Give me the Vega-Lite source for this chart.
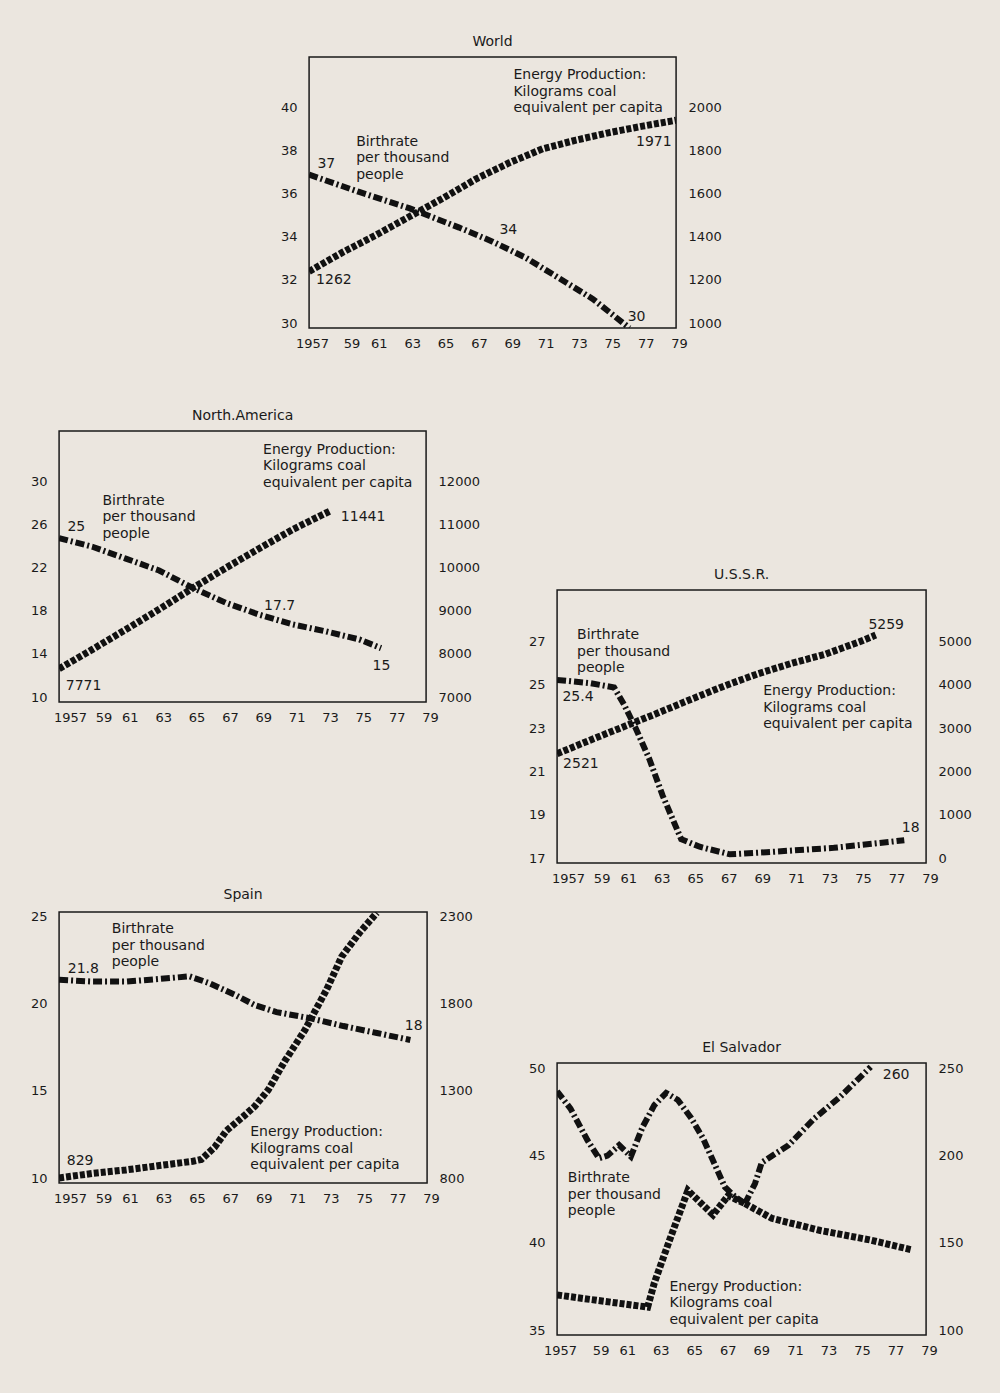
{
  "$schema": "https://vega.github.io/schema/vega-lite/v6.json",
  "background": "#ebe6df",
  "padding": {"left": 29, "top": 34, "right": 40, "bottom": 40},
  "config": {
    "font": "DejaVu Sans",
    "view": {"stroke": "#1a1a1a", "strokeWidth": 1.5},
    "title": {"font": "DejaVu Sans", "fontSize": 14, "fontWeight": "normal", "color": "#1a1a1a", "offset": 8, "frame": "group"},
    "axis": {"labelFont": "DejaVu Sans", "labelFontSize": 13, "labelColor": "#1a1a1a", "ticks": false, "domain": false, "grid": false, "labelPadding": 12},
    "axisY": {"labelOffset": -5},
    "axisX": {"labelPadding": 9, "labelFlush": false, "labelOverlap": false}
  },
  "datasets": {
    "lines": [
      {"region":"World","series":"Birthrate","year":1957,"value":37.1},
      {"region":"World","series":"Birthrate","year":1960,"value":36.3},
      {"region":"World","series":"Birthrate","year":1963,"value":35.55},
      {"region":"World","series":"Birthrate","year":1966,"value":34.65},
      {"region":"World","series":"Birthrate","year":1968,"value":34.0},
      {"region":"World","series":"Birthrate","year":1970,"value":33.25},
      {"region":"World","series":"Birthrate","year":1972,"value":32.3},
      {"region":"World","series":"Birthrate","year":1974,"value":31.35},
      {"region":"World","series":"Birthrate","year":1976.2,"value":30.0},
      {"region":"World","series":"Energy","year":1957,"value":1262},
      {"region":"World","series":"Energy","year":1959,"value":1350},
      {"region":"World","series":"Energy","year":1961,"value":1430},
      {"region":"World","series":"Energy","year":1963,"value":1515},
      {"region":"World","series":"Energy","year":1965,"value":1600},
      {"region":"World","series":"Energy","year":1967,"value":1690},
      {"region":"World","series":"Energy","year":1969,"value":1765},
      {"region":"World","series":"Energy","year":1971,"value":1830},
      {"region":"World","series":"Energy","year":1973,"value":1870},
      {"region":"World","series":"Energy","year":1975,"value":1905},
      {"region":"World","series":"Energy","year":1977,"value":1935},
      {"region":"World","series":"Energy","year":1979,"value":1962},

      {"region":"North America","series":"Birthrate","year":1957,"value":25.2},
      {"region":"North America","series":"Birthrate","year":1959,"value":24.4},
      {"region":"North America","series":"Birthrate","year":1961,"value":23.3},
      {"region":"North America","series":"Birthrate","year":1963,"value":22.2},
      {"region":"North America","series":"Birthrate","year":1965,"value":20.6},
      {"region":"North America","series":"Birthrate","year":1967,"value":19.2},
      {"region":"North America","series":"Birthrate","year":1969,"value":18.1},
      {"region":"North America","series":"Birthrate","year":1971,"value":17.2},
      {"region":"North America","series":"Birthrate","year":1973,"value":16.55},
      {"region":"North America","series":"Birthrate","year":1975,"value":15.8},
      {"region":"North America","series":"Birthrate","year":1976.3,"value":15.0},
      {"region":"North America","series":"Energy","year":1957,"value":7771},
      {"region":"North America","series":"Energy","year":1959,"value":8220},
      {"region":"North America","series":"Energy","year":1961,"value":8680},
      {"region":"North America","series":"Energy","year":1963,"value":9150},
      {"region":"North America","series":"Energy","year":1965,"value":9640},
      {"region":"North America","series":"Energy","year":1967,"value":10110},
      {"region":"North America","series":"Energy","year":1969,"value":10560},
      {"region":"North America","series":"Energy","year":1971,"value":11000},
      {"region":"North America","series":"Energy","year":1973.3,"value":11441},

      {"region":"U.S.S.R.","series":"Birthrate","year":1957,"value":25.45},
      {"region":"U.S.S.R.","series":"Birthrate","year":1959,"value":25.3},
      {"region":"U.S.S.R.","series":"Birthrate","year":1960.4,"value":25.1},
      {"region":"U.S.S.R.","series":"Birthrate","year":1961,"value":24.3},
      {"region":"U.S.S.R.","series":"Birthrate","year":1961.7,"value":23.2},
      {"region":"U.S.S.R.","series":"Birthrate","year":1962.5,"value":21.8},
      {"region":"U.S.S.R.","series":"Birthrate","year":1963.3,"value":20.1},
      {"region":"U.S.S.R.","series":"Birthrate","year":1964.4,"value":18.1},
      {"region":"U.S.S.R.","series":"Birthrate","year":1965.5,"value":17.75},
      {"region":"U.S.S.R.","series":"Birthrate","year":1967.3,"value":17.4},
      {"region":"U.S.S.R.","series":"Birthrate","year":1969.5,"value":17.5},
      {"region":"U.S.S.R.","series":"Birthrate","year":1973.5,"value":17.7},
      {"region":"U.S.S.R.","series":"Birthrate","year":1977.7,"value":18.05},
      {"region":"U.S.S.R.","series":"Energy","year":1957,"value":2521},
      {"region":"U.S.S.R.","series":"Energy","year":1959,"value":2840},
      {"region":"U.S.S.R.","series":"Energy","year":1961,"value":3150},
      {"region":"U.S.S.R.","series":"Energy","year":1963,"value":3460},
      {"region":"U.S.S.R.","series":"Energy","year":1965,"value":3780},
      {"region":"U.S.S.R.","series":"Energy","year":1967,"value":4090},
      {"region":"U.S.S.R.","series":"Energy","year":1969,"value":4370},
      {"region":"U.S.S.R.","series":"Energy","year":1971,"value":4610},
      {"region":"U.S.S.R.","series":"Energy","year":1973,"value":4820},
      {"region":"U.S.S.R.","series":"Energy","year":1975,"value":5100},
      {"region":"U.S.S.R.","series":"Energy","year":1976,"value":5259},

      {"region":"Spain","series":"Birthrate","year":1957,"value":21.65},
      {"region":"Spain","series":"Birthrate","year":1959,"value":21.55},
      {"region":"Spain","series":"Birthrate","year":1961,"value":21.55},
      {"region":"Spain","series":"Birthrate","year":1963,"value":21.7},
      {"region":"Spain","series":"Birthrate","year":1964.8,"value":21.85},
      {"region":"Spain","series":"Birthrate","year":1966,"value":21.45},
      {"region":"Spain","series":"Birthrate","year":1967.5,"value":20.8},
      {"region":"Spain","series":"Birthrate","year":1968.7,"value":20.2},
      {"region":"Spain","series":"Birthrate","year":1970,"value":19.8},
      {"region":"Spain","series":"Birthrate","year":1972,"value":19.45},
      {"region":"Spain","series":"Birthrate","year":1974,"value":19.0},
      {"region":"Spain","series":"Birthrate","year":1976,"value":18.6},
      {"region":"Spain","series":"Birthrate","year":1978,"value":18.2},
      {"region":"Spain","series":"Energy","year":1957,"value":829},
      {"region":"Spain","series":"Energy","year":1959,"value":855},
      {"region":"Spain","series":"Energy","year":1961,"value":875},
      {"region":"Spain","series":"Energy","year":1963,"value":900},
      {"region":"Spain","series":"Energy","year":1965,"value":925},
      {"region":"Spain","series":"Energy","year":1965.5,"value":935},
      {"region":"Spain","series":"Energy","year":1966.3,"value":1005},
      {"region":"Spain","series":"Energy","year":1967,"value":1100},
      {"region":"Spain","series":"Energy","year":1968,"value":1180},
      {"region":"Spain","series":"Energy","year":1968.7,"value":1240},
      {"region":"Spain","series":"Energy","year":1969.5,"value":1333},
      {"region":"Spain","series":"Energy","year":1970.5,"value":1500},
      {"region":"Spain","series":"Energy","year":1971.7,"value":1678},
      {"region":"Spain","series":"Energy","year":1973,"value":1910},
      {"region":"Spain","series":"Energy","year":1973.9,"value":2099},
      {"region":"Spain","series":"Energy","year":1975,"value":2240},
      {"region":"Spain","series":"Energy","year":1976,"value":2350},

      {"region":"El Salvador","series":"Birthrate","year":1957,"value":49.0},
      {"region":"El Salvador","series":"Birthrate","year":1957.8,"value":48.0},
      {"region":"El Salvador","series":"Birthrate","year":1958.8,"value":46.2},
      {"region":"El Salvador","series":"Birthrate","year":1959.5,"value":45.15},
      {"region":"El Salvador","series":"Birthrate","year":1960,"value":45.3},
      {"region":"El Salvador","series":"Birthrate","year":1960.7,"value":45.9},
      {"region":"El Salvador","series":"Birthrate","year":1961.4,"value":45.25},
      {"region":"El Salvador","series":"Birthrate","year":1962.1,"value":46.95},
      {"region":"El Salvador","series":"Birthrate","year":1962.8,"value":48.2},
      {"region":"El Salvador","series":"Birthrate","year":1963.5,"value":48.9},
      {"region":"El Salvador","series":"Birthrate","year":1964.2,"value":48.5},
      {"region":"El Salvador","series":"Birthrate","year":1965,"value":47.45},
      {"region":"El Salvador","series":"Birthrate","year":1965.7,"value":46.3},
      {"region":"El Salvador","series":"Birthrate","year":1966.4,"value":44.8},
      {"region":"El Salvador","series":"Birthrate","year":1967,"value":43.5},
      {"region":"El Salvador","series":"Birthrate","year":1967.6,"value":42.95},
      {"region":"El Salvador","series":"Birthrate","year":1968.2,"value":42.55},
      {"region":"El Salvador","series":"Birthrate","phase":"after","year":1968.2,"value":42.55},
      {"region":"El Salvador","series":"Birthrate","phase":"after","year":1969.8,"value":41.7},
      {"region":"El Salvador","series":"Birthrate","phase":"after","year":1972.7,"value":41.0},
      {"region":"El Salvador","series":"Birthrate","phase":"after","year":1975.7,"value":40.45},
      {"region":"El Salvador","series":"Birthrate","phase":"after","year":1978.1,"value":39.9},
      {"region":"El Salvador","series":"Energy","year":1957,"value":123},
      {"region":"El Salvador","series":"Energy","year":1962.4,"value":116},
      {"region":"El Salvador","series":"Energy","year":1962.8,"value":130},
      {"region":"El Salvador","series":"Energy","year":1963.8,"value":157},
      {"region":"El Salvador","series":"Energy","year":1964.8,"value":183},
      {"region":"El Salvador","series":"Energy","year":1966.3,"value":169},
      {"region":"El Salvador","series":"Energy","year":1967.2,"value":180},
      {"region":"El Salvador","series":"Energy","year":1968.2,"value":175.5},
      {"region":"El Salvador","series":"Energy","phase":"after","year":1968.2,"value":175.5},
      {"region":"El Salvador","series":"Energy","phase":"after","year":1968.8,"value":187},
      {"region":"El Salvador","series":"Energy","phase":"after","year":1969.2,"value":199},
      {"region":"El Salvador","series":"Energy","phase":"after","year":1970.8,"value":209},
      {"region":"El Salvador","series":"Energy","phase":"after","year":1972.3,"value":224},
      {"region":"El Salvador","series":"Energy","phase":"after","year":1973.9,"value":237},
      {"region":"El Salvador","series":"Energy","phase":"after","year":1975.7,"value":254}
    ],
    "notes": [
      {"region":"World","series":"Birthrate","year":1957.5,"value":37.93,"text":"37"},
      {"region":"World","series":"Birthrate","year":1959.82,"value":38.94,"text":"Birthrate\nper thousand\npeople"},
      {"region":"World","series":"Birthrate","year":1968.41,"value":34.85,"text":"34"},
      {"region":"World","series":"Birthrate","year":1976.1,"value":30.83,"text":"30"},
      {"region":"World","series":"Energy","year":1957.42,"value":1253,"text":"1262"},
      {"region":"World","series":"Energy","year":1976.6,"value":1893,"text":"1971"},
      {"region":"World","series":"Energy","year":1969.25,"value":2202,"text":"Energy Production:\nKilograms coal\nequivalent per capita"},
      {"region":"North America","series":"Birthrate","year":1957.5,"value":26.86,"text":"25"},
      {"region":"North America","series":"Birthrate","year":1959.6,"value":29.33,"text":"Birthrate\nper thousand\npeople"},
      {"region":"North America","series":"Birthrate","year":1969.29,"value":19.59,"text":"17.7"},
      {"region":"North America","series":"Birthrate","year":1975.79,"value":14.03,"text":"15"},
      {"region":"North America","series":"Energy","year":1957.4,"value":7542,"text":"7771"},
      {"region":"North America","series":"Energy","year":1973.89,"value":11445,"text":"11441"},
      {"region":"North America","series":"Energy","year":1969.23,"value":13007,"text":"Energy Production:\nKilograms coal\nequivalent per capita"},
      {"region":"U.S.S.R.","series":"Birthrate","year":1957.32,"value":24.99,"text":"25.4"},
      {"region":"U.S.S.R.","series":"Birthrate","year":1958.19,"value":27.83,"text":"Birthrate\nper thousand\npeople"},
      {"region":"U.S.S.R.","series":"Birthrate","year":1977.55,"value":18.96,"text":"18"},
      {"region":"U.S.S.R.","series":"Energy","year":1957.36,"value":2456,"text":"2521"},
      {"region":"U.S.S.R.","series":"Energy","year":1975.56,"value":5659,"text":"5259"},
      {"region":"U.S.S.R.","series":"Energy","year":1969.29,"value":4124,"text":"Energy Production:\nKilograms coal\nequivalent per capita"},
      {"region":"Spain","series":"Birthrate","year":1957.52,"value":22.7,"text":"21.8"},
      {"region":"Spain","series":"Birthrate","year":1960.15,"value":24.94,"text":"Birthrate\nper thousand\npeople"},
      {"region":"Spain","series":"Birthrate","year":1977.67,"value":19.39,"text":"18"},
      {"region":"Spain","series":"Energy","year":1957.46,"value":969,"text":"829"},
      {"region":"Spain","series":"Energy","year":1968.43,"value":1132,"text":"Energy Production:\nKilograms coal\nequivalent per capita"},
      {"region":"El Salvador","series":"Energy","year":1976.42,"value":253.3,"text":"260"},
      {"region":"El Salvador","series":"Birthrate","year":1957.64,"value":44.39,"text":"Birthrate\nper thousand\npeople"},
      {"region":"El Salvador","series":"Energy","year":1963.7,"value":131.6,"text":"Energy Production:\nKilograms coal\nequivalent per capita"}
    ]
  },
  "vconcat": [
    {
      "title": "World",
      "width": 367, "height": 271,
      "encoding": {"x": {"field": "year", "type": "quantitative", "scale": {"domain": [1957, 1979], "nice": false, "zero": false}, "axis": {"title": null, "values": [1957,1959,1961,1963,1965,1967,1969,1971,1973,1975,1977,1979], "format": "d", "labelExpr": "datum.value == 1957 ? datum.label : substring(datum.label, 2)", "labelOffset": {"condition": {"test": "datum.value === 1959", "value": 9}, "value": 3}}}},
      "layer": [
        {
          "encoding": {"y": {"field": "value", "type": "quantitative", "scale": {"domain": [30, 42.55], "nice": false, "zero": false}, "axis": {"title": null, "orient": "left", "values": [30,32,34,36,38,40], "format": "d"}}},
          "layer": [
            {"data": {"name": "lines"}, "transform": [{"filter": "datum.region === 'World' && datum.series === 'Birthrate'"}], "mark": {"type": "line", "clip": true, "strokeCap": "butt", "color": "#111111"}, "encoding": {"detail": {"field": "phase"}, "strokeDash": {"condition": {"test": "datum.phase === 'after'", "value": [5, 2]}, "value": [9, 3, 2, 3]}, "strokeWidth": {"condition": {"test": "datum.phase === 'after'", "value": 7}, "value": 6}}},
            {"data": {"name": "notes"}, "transform": [{"filter": "datum.region === 'World' && datum.series === 'Birthrate'"}], "mark": {"type": "text", "align": "left", "baseline": "top", "lineBreak": "\n", "lineHeight": 16.5, "font": "DejaVu Sans", "fontSize": 14, "color": "#1a1a1a"}, "encoding": {"text": {"field": "text"}}}
          ]
        },
        {
          "encoding": {"y": {"field": "value", "type": "quantitative", "scale": {"domain": [1000, 2255], "nice": false, "zero": false}, "axis": {"title": null, "orient": "right", "values": [1000,1200,1400,1600,1800,2000], "format": "d"}}},
          "layer": [
            {"data": {"name": "lines"}, "transform": [{"filter": "datum.region === 'World' && datum.series === 'Energy'"}], "mark": {"type": "line", "clip": true, "strokeCap": "butt", "color": "#111111"}, "encoding": {"detail": {"field": "phase"}, "strokeDash": {"condition": {"test": "datum.phase === 'after'", "value": [9, 3, 2, 3]}, "value": [5, 2]}, "strokeWidth": {"condition": {"test": "datum.phase === 'after'", "value": 6}, "value": 7}}},
            {"data": {"name": "notes"}, "transform": [{"filter": "datum.region === 'World' && datum.series === 'Energy'"}], "mark": {"type": "text", "align": "left", "baseline": "top", "lineBreak": "\n", "lineHeight": 16.5, "font": "DejaVu Sans", "fontSize": 14, "color": "#1a1a1a"}, "encoding": {"text": {"field": "text"}}}
          ]
        }
      ],
      "resolve": {"scale": {"y": "independent"}}
    },
    {
      "hconcat": [
        {
          "vconcat": [
            {
              "title": "North.America",
              "width": 367, "height": 271,
              "encoding": {"x": {"field": "year", "type": "quantitative", "scale": {"domain": [1957, 1979], "nice": false, "zero": false}, "axis": {"title": null, "values": [1957,1959,1961,1963,1965,1967,1969,1971,1973,1975,1977,1979], "format": "d", "labelExpr": "datum.value == 1957 ? datum.label : substring(datum.label, 2)", "labelOffset": {"condition": {"test": "datum.value <= 1959", "value": 11}, "value": 4}}}},
              "layer": [
                {
                  "encoding": {"y": {"field": "value", "type": "quantitative", "scale": {"domain": [10, 35.14], "nice": false, "zero": false}, "axis": {"title": null, "orient": "left", "values": [10,14,18,22,26,30], "format": "d"}}},
                  "layer": [
                    {"data": {"name": "lines"}, "transform": [{"filter": "datum.region === 'North America' && datum.series === 'Birthrate'"}], "mark": {"type": "line", "clip": true, "strokeCap": "butt", "color": "#111111"}, "encoding": {"detail": {"field": "phase"}, "strokeDash": {"condition": {"test": "datum.phase === 'after'", "value": [5, 2]}, "value": [9, 3, 2, 3]}, "strokeWidth": {"condition": {"test": "datum.phase === 'after'", "value": 7}, "value": 6}}},
                    {"data": {"name": "notes"}, "transform": [{"filter": "datum.region === 'North America' && datum.series === 'Birthrate'"}], "mark": {"type": "text", "align": "left", "baseline": "top", "lineBreak": "\n", "lineHeight": 16.5, "font": "DejaVu Sans", "fontSize": 14, "color": "#1a1a1a"}, "encoding": {"text": {"field": "text"}}}
                  ]
                },
                {
                  "encoding": {"y": {"field": "value", "type": "quantitative", "scale": {"domain": [7000, 13285], "nice": false, "zero": false}, "axis": {"title": null, "orient": "right", "values": [7000,8000,9000,10000,11000,12000], "format": "d"}}},
                  "layer": [
                    {"data": {"name": "lines"}, "transform": [{"filter": "datum.region === 'North America' && datum.series === 'Energy'"}], "mark": {"type": "line", "clip": true, "strokeCap": "butt", "color": "#111111"}, "encoding": {"detail": {"field": "phase"}, "strokeDash": {"condition": {"test": "datum.phase === 'after'", "value": [9, 3, 2, 3]}, "value": [5, 2]}, "strokeWidth": {"condition": {"test": "datum.phase === 'after'", "value": 6}, "value": 7}}},
                    {"data": {"name": "notes"}, "transform": [{"filter": "datum.region === 'North America' && datum.series === 'Energy'"}], "mark": {"type": "text", "align": "left", "baseline": "top", "lineBreak": "\n", "lineHeight": 16.5, "font": "DejaVu Sans", "fontSize": 14, "color": "#1a1a1a"}, "encoding": {"text": {"field": "text"}}}
                  ]
                }
              ],
              "resolve": {"scale": {"y": "independent"}}
            },
            {
              "title": "Spain",
              "width": 368, "height": 271,
              "encoding": {"x": {"field": "year", "type": "quantitative", "scale": {"domain": [1957, 1979], "nice": false, "zero": false}, "axis": {"title": null, "values": [1957,1959,1961,1963,1965,1967,1969,1971,1973,1975,1977,1979], "format": "d", "labelExpr": "datum.value == 1957 ? datum.label : substring(datum.label, 2)", "labelOffset": {"condition": {"test": "datum.value <= 1959", "value": 11}, "value": 4}}}},
              "layer": [
                {
                  "encoding": {"y": {"field": "value", "type": "quantitative", "scale": {"domain": [10, 25.54], "nice": false, "zero": false}, "axis": {"title": null, "orient": "left", "values": [10,15,20,25], "format": "d"}}},
                  "layer": [
                    {"data": {"name": "lines"}, "transform": [{"filter": "datum.region === 'Spain' && datum.series === 'Birthrate'"}], "mark": {"type": "line", "clip": true, "strokeCap": "butt", "color": "#111111"}, "encoding": {"detail": {"field": "phase"}, "strokeDash": {"condition": {"test": "datum.phase === 'after'", "value": [5, 2]}, "value": [9, 3, 2, 3]}, "strokeWidth": {"condition": {"test": "datum.phase === 'after'", "value": 7}, "value": 6}}},
                    {"data": {"name": "notes"}, "transform": [{"filter": "datum.region === 'Spain' && datum.series === 'Birthrate'"}], "mark": {"type": "text", "align": "left", "baseline": "top", "lineBreak": "\n", "lineHeight": 16.5, "font": "DejaVu Sans", "fontSize": 14, "color": "#1a1a1a"}, "encoding": {"text": {"field": "text"}}}
                  ]
                },
                {
                  "encoding": {"y": {"field": "value", "type": "quantitative", "scale": {"domain": [800, 2354], "nice": false, "zero": false}, "axis": {"title": null, "orient": "right", "values": [800,1300,1800,2300], "format": "d"}}},
                  "layer": [
                    {"data": {"name": "lines"}, "transform": [{"filter": "datum.region === 'Spain' && datum.series === 'Energy'"}], "mark": {"type": "line", "clip": true, "strokeCap": "butt", "color": "#111111"}, "encoding": {"detail": {"field": "phase"}, "strokeDash": {"condition": {"test": "datum.phase === 'after'", "value": [9, 3, 2, 3]}, "value": [5, 2]}, "strokeWidth": {"condition": {"test": "datum.phase === 'after'", "value": 6}, "value": 7}}},
                    {"data": {"name": "notes"}, "transform": [{"filter": "datum.region === 'Spain' && datum.series === 'Energy'"}], "mark": {"type": "text", "align": "left", "baseline": "top", "lineBreak": "\n", "lineHeight": 16.5, "font": "DejaVu Sans", "fontSize": 14, "color": "#1a1a1a"}, "encoding": {"text": {"field": "text"}}}
                  ]
                }
              ],
              "resolve": {"scale": {"y": "independent"}}
            }
          ],
          "spacing": 162
        },
        {
          "vconcat": [
            {"width": 1, "height": 136, "data": {"values": []}, "mark": "point", "view": {"stroke": null, "fill": "#ebe6df"}},
            {
              "title": "U.S.S.R.",
              "width": 369, "height": 273,
              "encoding": {"x": {"field": "year", "type": "quantitative", "scale": {"domain": [1957, 1979], "nice": false, "zero": false}, "axis": {"title": null, "values": [1957,1959,1961,1963,1965,1967,1969,1971,1973,1975,1977,1979], "format": "d", "labelExpr": "datum.value == 1957 ? datum.label : substring(datum.label, 2)", "labelOffset": {"condition": {"test": "datum.value <= 1959", "value": 11}, "value": 4}}}},
              "layer": [
                {
                  "encoding": {"y": {"field": "value", "type": "quantitative", "scale": {"domain": [17, 29.6], "nice": false, "zero": false}, "axis": {"title": null, "orient": "left", "values": [17,19,21,23,25,27], "format": "d"}}},
                  "layer": [
                    {"data": {"name": "lines"}, "transform": [{"filter": "datum.region === 'U.S.S.R.' && datum.series === 'Birthrate'"}], "mark": {"type": "line", "clip": true, "strokeCap": "butt", "color": "#111111"}, "encoding": {"detail": {"field": "phase"}, "strokeDash": {"condition": {"test": "datum.phase === 'after'", "value": [5, 2]}, "value": [9, 3, 2, 3]}, "strokeWidth": {"condition": {"test": "datum.phase === 'after'", "value": 7}, "value": 6}}},
                    {"data": {"name": "notes"}, "transform": [{"filter": "datum.region === 'U.S.S.R.' && datum.series === 'Birthrate'"}], "mark": {"type": "text", "align": "left", "baseline": "top", "lineBreak": "\n", "lineHeight": 16.5, "font": "DejaVu Sans", "fontSize": 14, "color": "#1a1a1a"}, "encoding": {"text": {"field": "text"}}}
                  ]
                },
                {
                  "encoding": {"y": {"field": "value", "type": "quantitative", "scale": {"domain": [0, 6300], "nice": false, "zero": false}, "axis": {"title": null, "orient": "right", "values": [0,1000,2000,3000,4000,5000], "format": "d"}}},
                  "layer": [
                    {"data": {"name": "lines"}, "transform": [{"filter": "datum.region === 'U.S.S.R.' && datum.series === 'Energy'"}], "mark": {"type": "line", "clip": true, "strokeCap": "butt", "color": "#111111"}, "encoding": {"detail": {"field": "phase"}, "strokeDash": {"condition": {"test": "datum.phase === 'after'", "value": [9, 3, 2, 3]}, "value": [5, 2]}, "strokeWidth": {"condition": {"test": "datum.phase === 'after'", "value": 6}, "value": 7}}},
                    {"data": {"name": "notes"}, "transform": [{"filter": "datum.region === 'U.S.S.R.' && datum.series === 'Energy'"}], "mark": {"type": "text", "align": "left", "baseline": "top", "lineBreak": "\n", "lineHeight": 16.5, "font": "DejaVu Sans", "fontSize": 14, "color": "#1a1a1a"}, "encoding": {"text": {"field": "text"}}}
                  ]
                }
              ],
              "resolve": {"scale": {"y": "independent"}}
            },
            {"width": 1, "height": 154, "data": {"values": []}, "mark": "point", "view": {"stroke": null, "fill": "#ebe6df"}},
            {
              "title": "El Salvador",
              "width": 369, "height": 272,
              "encoding": {"x": {"field": "year", "type": "quantitative", "scale": {"domain": [1957, 1979], "nice": false, "zero": false}, "axis": {"title": null, "values": [1957,1959,1961,1963,1965,1967,1969,1971,1973,1975,1977,1979], "format": "d", "labelExpr": "datum.value == 1957 ? datum.label : substring(datum.label, 2)", "labelOffset": {"condition": {"test": "datum.value === 1959", "value": 10}, "value": 3}}}},
              "layer": [
                {
                  "encoding": {"y": {"field": "value", "type": "quantitative", "scale": {"domain": [35, 50.62], "nice": false, "zero": false}, "axis": {"title": null, "orient": "left", "values": [35,40,45,50], "format": "d"}}},
                  "layer": [
                    {"data": {"name": "lines"}, "transform": [{"filter": "datum.region === 'El Salvador' && datum.series === 'Birthrate'"}], "mark": {"type": "line", "clip": true, "strokeCap": "butt", "color": "#111111"}, "encoding": {"detail": {"field": "phase"}, "strokeDash": {"condition": {"test": "datum.phase === 'after'", "value": [5, 2]}, "value": [9, 3, 2, 3]}, "strokeWidth": {"condition": {"test": "datum.phase === 'after'", "value": 7}, "value": 6}}},
                    {"data": {"name": "notes"}, "transform": [{"filter": "datum.region === 'El Salvador' && datum.series === 'Birthrate'"}], "mark": {"type": "text", "align": "left", "baseline": "top", "lineBreak": "\n", "lineHeight": 16.5, "font": "DejaVu Sans", "fontSize": 14, "color": "#1a1a1a"}, "encoding": {"text": {"field": "text"}}}
                  ]
                },
                {
                  "encoding": {"y": {"field": "value", "type": "quantitative", "scale": {"domain": [100, 256.2], "nice": false, "zero": false}, "axis": {"title": null, "orient": "right", "values": [100,150,200,250], "format": "d"}}},
                  "layer": [
                    {"data": {"name": "lines"}, "transform": [{"filter": "datum.region === 'El Salvador' && datum.series === 'Energy'"}], "mark": {"type": "line", "clip": true, "strokeCap": "butt", "color": "#111111"}, "encoding": {"detail": {"field": "phase"}, "strokeDash": {"condition": {"test": "datum.phase === 'after'", "value": [9, 3, 2, 3]}, "value": [5, 2]}, "strokeWidth": {"condition": {"test": "datum.phase === 'after'", "value": 6}, "value": 7}}},
                    {"data": {"name": "notes"}, "transform": [{"filter": "datum.region === 'El Salvador' && datum.series === 'Energy'"}], "mark": {"type": "text", "align": "left", "baseline": "top", "lineBreak": "\n", "lineHeight": 16.5, "font": "DejaVu Sans", "fontSize": 14, "color": "#1a1a1a"}, "encoding": {"text": {"field": "text"}}}
                  ]
                }
              ],
              "resolve": {"scale": {"y": "independent"}}
            }
          ],
          "spacing": 0
        }
      ],
      "spacing": 46
    }
  ],
  "spacing": 57,
  "center": true
}
